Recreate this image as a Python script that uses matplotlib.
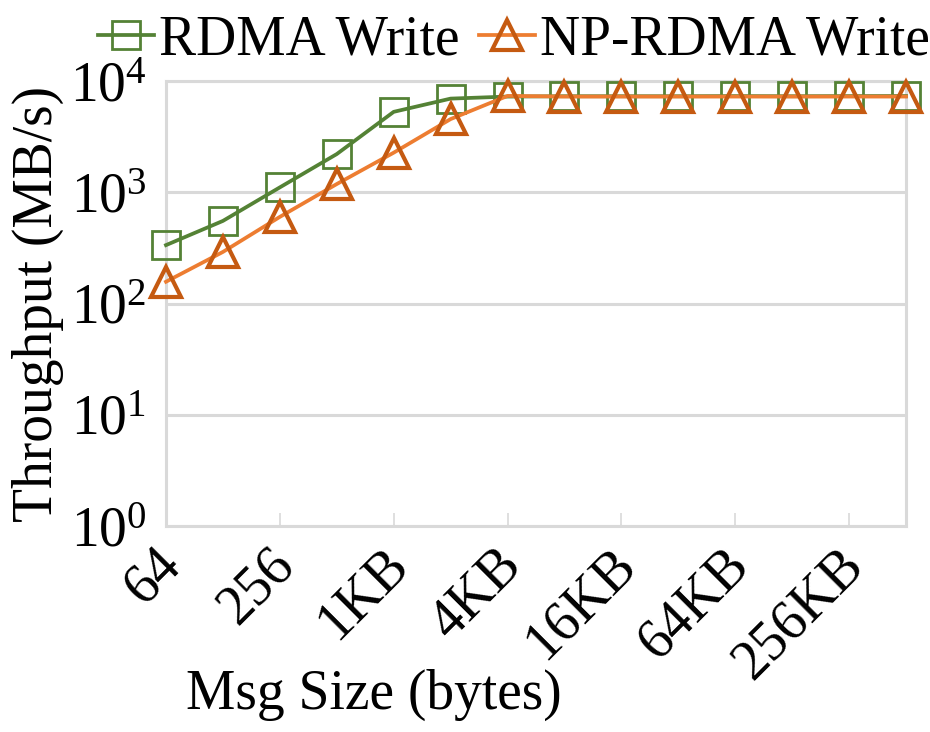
import matplotlib
matplotlib.use('Agg')
import matplotlib.pyplot as plt
import matplotlib.transforms as mtransforms

# message sizes and measured throughput (MB/s)
sizes = ['64', '128', '256', '512', '1KB', '2KB', '4KB', '8KB', '16KB',
         '32KB', '64KB', '128KB', '256KB', '512KB']
rdma_write = [335, 553, 1107, 2206, 5285, 6950, 7250, 7300, 7300,
              7300, 7320, 7300, 7320, 7330]
np_rdma_write = [157, 291, 601, 1186, 2270, 4550, 7350, 7250, 7250,
                 7250, 7250, 7250, 7250, 7250]

plt.rcParams['font.family'] = ['Liberation Serif', 'DejaVu Serif']
plt.rcParams['mathtext.fontset'] = 'custom'
plt.rcParams['mathtext.rm'] = 'Liberation Serif'
plt.rcParams['font.size'] = 40

grey = '#D9D9D9'
green = '#548235'
orange = '#ED7D31'
orange_dark = '#C55A11'

fig = plt.figure(figsize=(9.3, 7.32), dpi=100)
ax = fig.add_axes([0.1785, 0.2814, 0.7957, 0.6079])

x = list(range(len(sizes)))
ax.plot(x, rdma_write, color=green, lw=2.7, marker='s', markersize=20,
        markerfacecolor='none', markeredgecolor=green, markeredgewidth=2,
        label='RDMA Write', zorder=3, clip_on=False)
ax.plot(x, np_rdma_write, color=orange, lw=2.7, marker='^', markersize=21,
        markerfacecolor='none', markeredgecolor=orange_dark, markeredgewidth=3,
        label='NP-RDMA Write', zorder=4, clip_on=False)

ax.set_yscale('log')
ax.set_ylim(1, 1e4)
ax.set_xlim(0, len(sizes) - 1)
ax.minorticks_off()
ax.set_yticks([1, 10, 100, 1000, 10000])
ax.yaxis.grid(True, color=grey, lw=2.2)
ax.set_axisbelow(True)

ax.set_xticks(x[::2])
ax.set_xticklabels(sizes[::2], rotation=45, ha='right', va='top',
                   rotation_mode='anchor')
ax.tick_params(axis='x', direction='in', length=9.5, width=1.2, color=grey, pad=9)
ax.tick_params(axis='y', length=0, pad=14)

# nudge the rotated labels a little to the left
shift = mtransforms.ScaledTranslation(-12 / 100, 0, fig.dpi_scale_trans)
for lbl in ax.get_xticklabels():
    lbl.set_transform(lbl.get_transform() + shift)

for side in ['left', 'bottom', 'right', 'top']:
    ax.spines[side].set_color(grey)
    ax.spines[side].set_linewidth(2.2)

ax.set_ylabel('Throughput (MB/s)', labelpad=4)
ax.set_xlabel('Msg Size (bytes)')
ax.xaxis.set_label_coords(0.281, -0.32)

fig.legend(loc='center', bbox_to_anchor=(0.553, 0.945), ncol=2, frameon=False,
           handlelength=1.0, handletextpad=0.1, columnspacing=0.35,
           borderaxespad=0, borderpad=0)

fig.savefig('out.png', dpi=100)
